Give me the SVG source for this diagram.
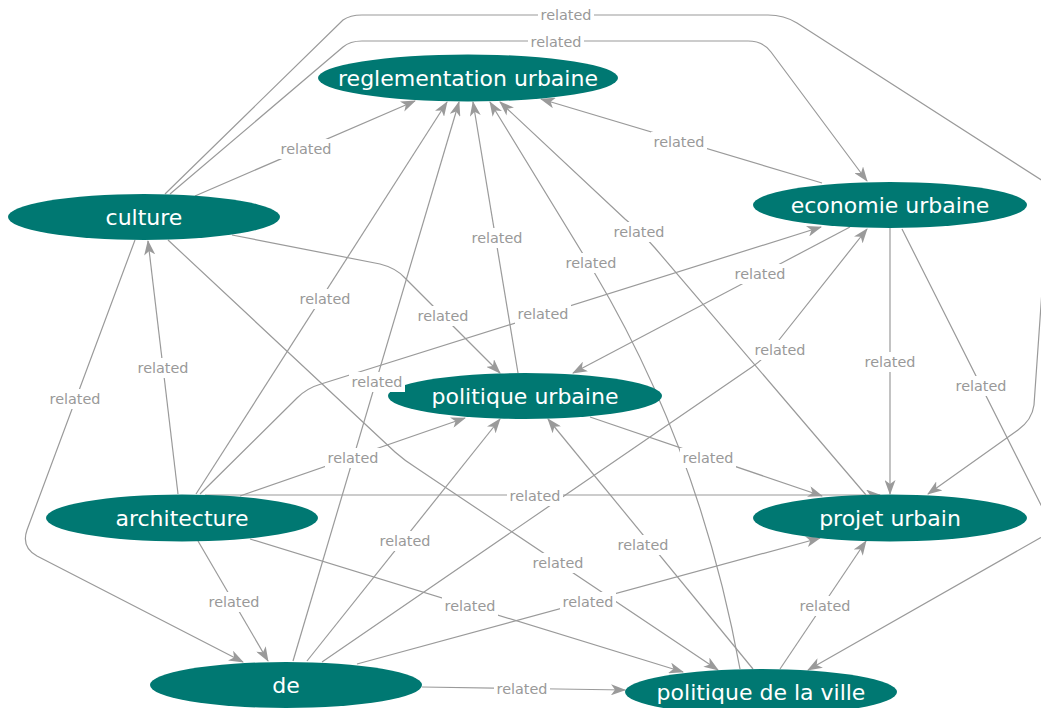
<svg xmlns="http://www.w3.org/2000/svg" width="1041" height="708" viewBox="0 0 1041 708">
<style>
.e{fill:none;stroke:#9a9a9a;stroke-width:1.2;marker-end:url(#arr)}
.n ellipse{fill:#007872}
.n text{font-family:"DejaVu Sans","Liberation Sans",sans-serif;font-size:22px;fill:#fff;text-anchor:middle}
</style>
<defs>
<marker id="arr" viewBox="0 0 15 11" refX="14" refY="5.5" markerWidth="15" markerHeight="11" markerUnits="userSpaceOnUse" orient="auto">
<path d="M0,0 L15,5.5 L0,11 L4,5.5 z" fill="#9a9a9a"/>
</marker>
<g id="lbl"><rect x="-28" y="-10" width="56" height="20" fill="#ffffff"/><text y="5" font-family="DejaVu Sans, Liberation Sans, sans-serif" font-size="14.4" fill="#999999" text-anchor="middle">related</text></g>
</defs>
<rect width="1041" height="708" fill="#fff"/>
<g id="connectors">
<path class="e" d="M165,194 L343,20 Q350,15 362,15 L768,15 Q784,15 797,23 L1046,183 Q1052,188 1048,205 L1034,405 Q1032,420 1018,430 L928,494"/>
<path class="e" d="M170,194 L343,47 Q350,41 362,41 L748,41 Q763,41 771,52 L867,181"/>
<path class="e" d="M195,196 L415,101"/>
<path class="e" d="M822,183 L541,99"/>
<path class="e" d="M518,373 L473,102"/>
<path class="e" d="M866,495 L655,248 Q641,232 625,219 L500,102"/>
<path class="e" d="M740,669 Q700,450 594,272 L490,102"/>
<path class="e" d="M850,227 L573,373"/>
<path class="e" d="M196,494 L447,102"/>
<path class="e" d="M200,494 L297,398 Q307,388 321,384 L821,227"/>
<path class="e" d="M232,235 L380,264 Q396,268 405,278 L500,373"/>
<path class="e" d="M322,662 L752,367 Q766,357 775,345 L867,229"/>
<path class="e" d="M890,228 L890,494"/>
<path class="e" d="M178,494 L148,241"/>
<path class="e" d="M293,661 L459,102"/>
<path class="e" d="M135,240 L27,530 Q21,547 37,556 L243,662"/>
<path class="e" d="M902,229 L1041,505 Q1054,530 1040,538 L808,670"/>
<path class="e" d="M240,496 L465,418"/>
<path class="e" d="M590,417 L822,496"/>
<path class="e" d="M205,495 L880,495"/>
<path class="e" d="M307,661 L500,419"/>
<path class="e" d="M753,669 L548,419"/>
<path class="e" d="M168,240 L395,452 Q405,461 418,469 L718,670"/>
<path class="e" d="M198,541 L268,661"/>
<path class="e" d="M357,664 L820,538"/>
<path class="e" d="M250,539 L683,672"/>
<path class="e" d="M780,669 L866,541"/>
<path class="e" d="M422,687 L625,690"/>
</g>
<g id="node-reglementation-urbaine" class="n"><ellipse cx="468" cy="78" rx="150" ry="23.5"/><text x="468" y="86">reglementation urbaine</text></g>
<g id="node-culture" class="n"><ellipse cx="144" cy="217" rx="136" ry="23"/><text x="144" y="225">culture</text></g>
<g id="node-economie-urbaine" class="n"><ellipse cx="890" cy="205" rx="137" ry="23"/><text x="890" y="213">economie urbaine</text></g>
<g id="node-politique-urbaine" class="n"><ellipse cx="525" cy="396" rx="137" ry="23"/><text x="525" y="404">politique urbaine</text></g>
<g id="node-architecture" class="n"><ellipse cx="182" cy="518" rx="136" ry="23.5"/><text x="182" y="526">architecture</text></g>
<g id="node-projet-urbain" class="n"><ellipse cx="890" cy="518" rx="137" ry="23.5"/><text x="890" y="526">projet urbain</text></g>
<g id="node-de" class="n"><ellipse cx="286" cy="685" rx="136" ry="23"/><text x="286" y="693">de</text></g>
<g id="node-politique-de-la-ville" class="n"><ellipse cx="761" cy="692" rx="136" ry="23"/><text x="761" y="700">politique de la ville</text></g>
<g id="edge-labels">
<use href="#lbl" x="566" y="15"/>
<use href="#lbl" x="556" y="42"/>
<use href="#lbl" x="306" y="149"/>
<use href="#lbl" x="679" y="142"/>
<use href="#lbl" x="497" y="238"/>
<use href="#lbl" x="639" y="232"/>
<use href="#lbl" x="591" y="263"/>
<use href="#lbl" x="760" y="274"/>
<use href="#lbl" x="325" y="299"/>
<use href="#lbl" x="543" y="314"/>
<use href="#lbl" x="443" y="316"/>
<use href="#lbl" x="780" y="350"/>
<use href="#lbl" x="890" y="362"/>
<use href="#lbl" x="163" y="368"/>
<use href="#lbl" x="377" y="382"/>
<use href="#lbl" x="75" y="399"/>
<use href="#lbl" x="981" y="386"/>
<use href="#lbl" x="353" y="458"/>
<use href="#lbl" x="708" y="458"/>
<use href="#lbl" x="535" y="496"/>
<use href="#lbl" x="405" y="541"/>
<use href="#lbl" x="643" y="545"/>
<use href="#lbl" x="558" y="563"/>
<use href="#lbl" x="234" y="602"/>
<use href="#lbl" x="588" y="602"/>
<use href="#lbl" x="470" y="606"/>
<use href="#lbl" x="825" y="606"/>
<use href="#lbl" x="522" y="689"/>
</g>
</svg>
